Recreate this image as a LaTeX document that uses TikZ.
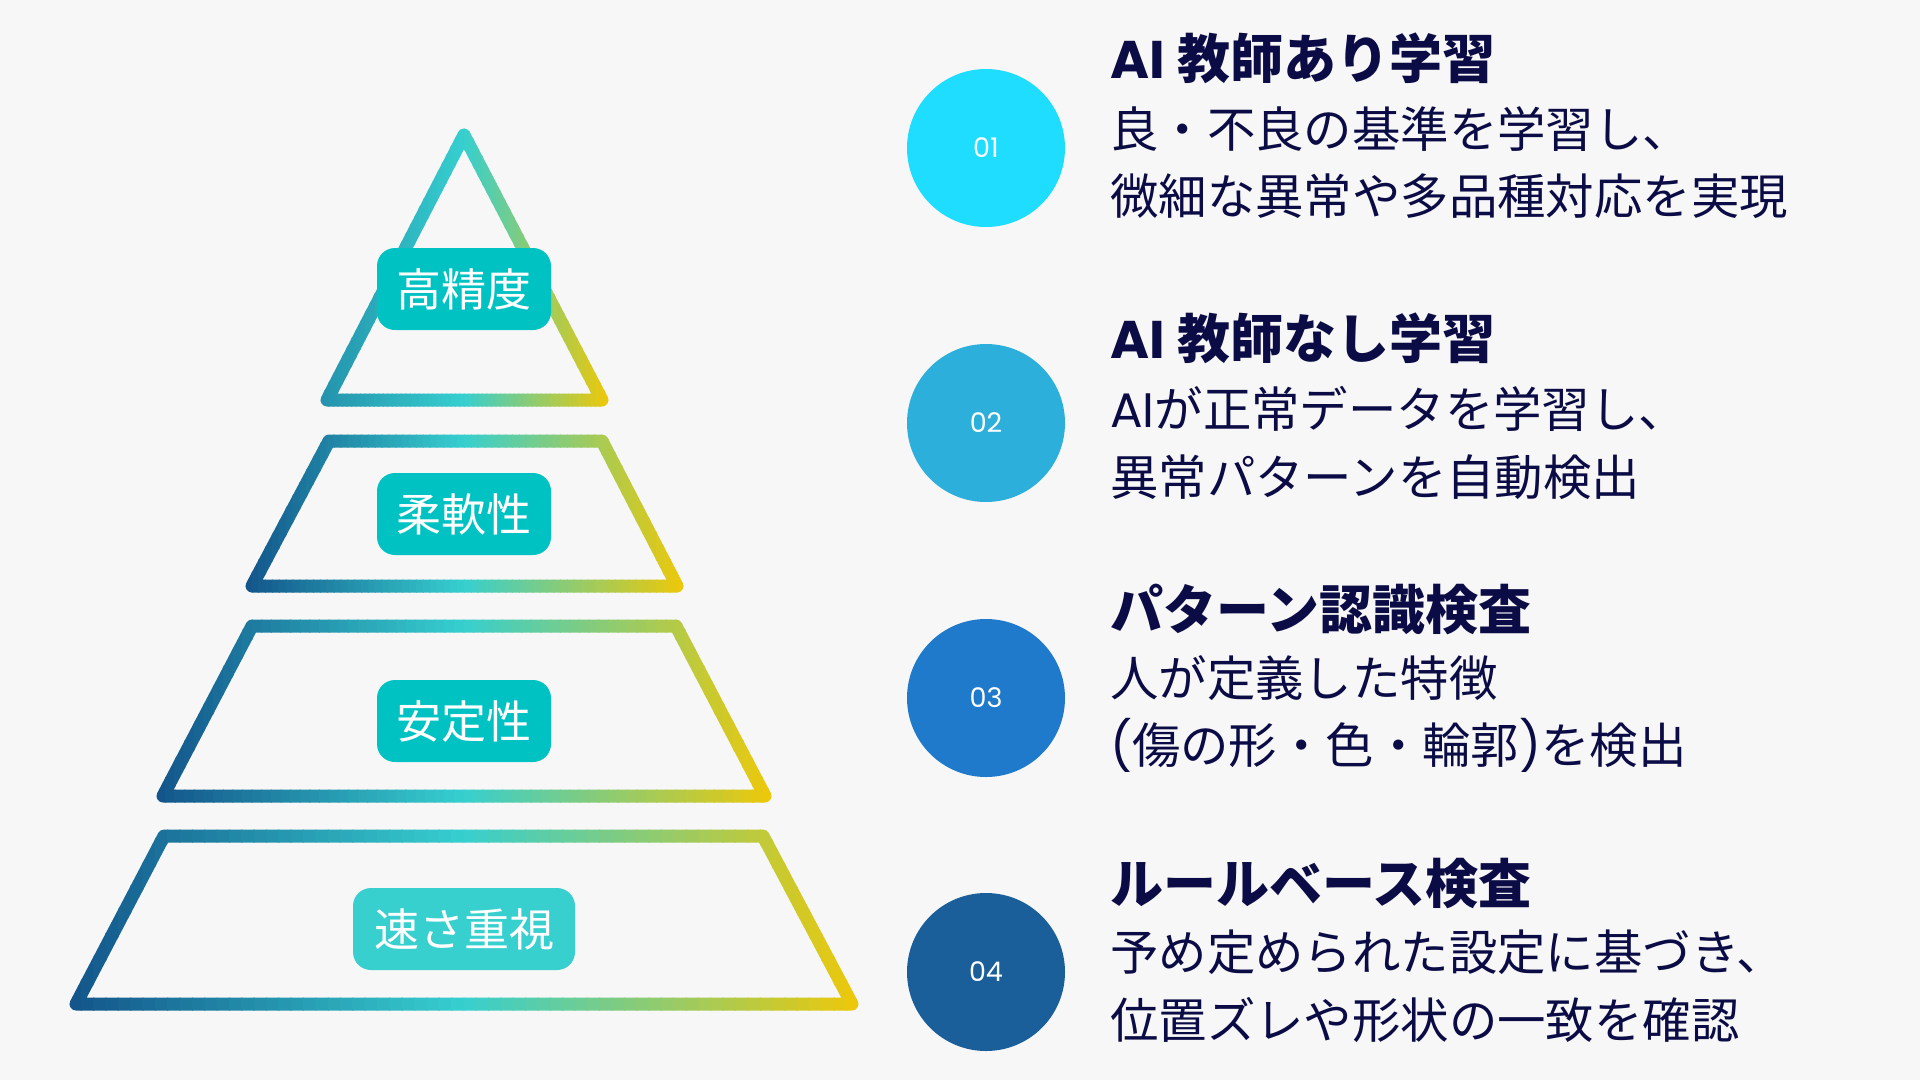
\documentclass[tikz,border=0pt]{standalone}
\usepackage{fontspec}
\setmainfont{Noto Sans CJK JP}
\newfontfamily\jpfont{Noto Sans CJK JP}
\newfontfamily\popfont{Poppins}
\definecolor{bgc}{HTML}{F7F7F7}
\definecolor{gA}{HTML}{13548A}
\definecolor{gAt}{HTML}{2492AC}
\definecolor{gB}{HTML}{36CFCF}
\definecolor{gC}{HTML}{EEC808}
\definecolor{labA}{HTML}{00C2C2}
\definecolor{labB}{HTML}{38CFCF}
\definecolor{cOne}{HTML}{1FDDFF}
\definecolor{cTwo}{HTML}{2CAFDB}
\definecolor{cThree}{HTML}{1F7ACB}
\definecolor{cFour}{HTML}{1A5F9A}
\definecolor{navy}{HTML}{0B0B45}
\newcommand\gradpoly[4]{%
  \foreach \i in {0,...,63}{%
    \pgfmathsetmacro\xa{#1+(#2-#1)/64*\i-0.6}%
    \pgfmathsetmacro\xb{#1+(#2-#1)/64*(\i+1)+0.6}%
    \pgfmathsetmacro\pone{max(0,min(100,100-200/64*(\i+0.5)))}%
    \pgfmathsetmacro\ptwo{max(0,min(100,200-200/64*(\i+0.5)))}%
    \colorlet{gcur}{gB!\ptwo!gC}%
    \colorlet{gcur}{#3!\pone!gcur}%
    \begin{scope}
      \clip (\xa,0) rectangle (\xb,1080);
      \draw[pyrline, draw=gcur] #4;
    \end{scope}
  }%
}
\tikzset{
  pyrline/.style={line width=13, line join=round},
  lab/.style={fill=labA, rounded corners=18, minimum width=174, minimum height=82,
    inner sep=0, text=white, font=\jpfont\fontsize{45}{50}\selectfont},
  numc/.style={circle, minimum size=158, inner sep=0, text=white,
    font=\popfont\fontsize{27}{30}\selectfont},
  head/.style={anchor=base west, inner sep=0, text=navy,
    font=\jpfont\bfseries\fontsize{53}{60}\selectfont},
  body/.style={anchor=base west, inner sep=0, text=navy,
    font=\jpfont\fontsize{48.4}{56}\selectfont},
}
\begin{document}
\begin{tikzpicture}[x=1pt, y=-1pt]
\useasboundingbox (0,0) rectangle (1920,1080);
\fill[bgc] (0,0) rectangle (1920,1080);
% pyramid layers
\gradpoly{320}{609}{gAt}{(464,135) -- (602,400) -- (327,400) -- cycle}
\gradpoly{245}{684}{gA}{(329,441) -- (602,441) -- (677,586) -- (252,586) -- cycle}
\gradpoly{156}{772}{gA}{(252,626) -- (676,626) -- (765,796) -- (163,796) -- cycle}
\gradpoly{69}{859}{gA}{(164,836) -- (763,836) -- (852,1004) -- (76,1004) -- cycle}
% labels
\node[lab] (l1) at (464,289) {高精度};
\node[lab] (l2) at (464,514) {柔軟性};
\node[lab] (l3) at (464,721) {安定性};
\node[lab, fill=labB, minimum width=222] (l4) at (464,929) {速さ重視};
% circles
\node[numc, fill=cOne] (n1) at (986,148) {01};
\node[numc, fill=cTwo] (n2) at (986,423) {02};
\node[numc, fill=cThree] (n3) at (986,698) {03};
\node[numc, fill=cFour] (n4) at (986,972) {04};
% texts
\node[head] (h1) at (1110,78.5) {{\popfont\bfseries AI} 教師あり学習};
\node[body] (b1a) at (1110,147.5) {良・不良の基準を学習し、};
\node[body] (b1b) at (1110,214) {微細な異常や多品種対応を実現};
\node[head] (h2) at (1110,358.5) {{\popfont\bfseries AI} 教師なし学習};
\node[body] (b2a) at (1110,427) {{\popfont AI}が正常データを学習し、};
\node[body] (b2b) at (1110,495) {異常パターンを自動検出};
\node[head] (h3) at (1110,629) {パターン認識検査};
\node[body] (b3a) at (1110,696) {人が定義した特徴};
\node[body] (b3b) at (1110,763) {{\popfont(}傷の形・色・輪郭{\popfont)}を検出};
\node[head] (h4) at (1110,903) {ルールベース検査};
\node[body] (b4a) at (1110,970.5) {予め定められた設定に基づき、};
\node[body] (b4b) at (1110,1038) {位置ズレや形状の一致を確認};
\end{tikzpicture}
\end{document}
